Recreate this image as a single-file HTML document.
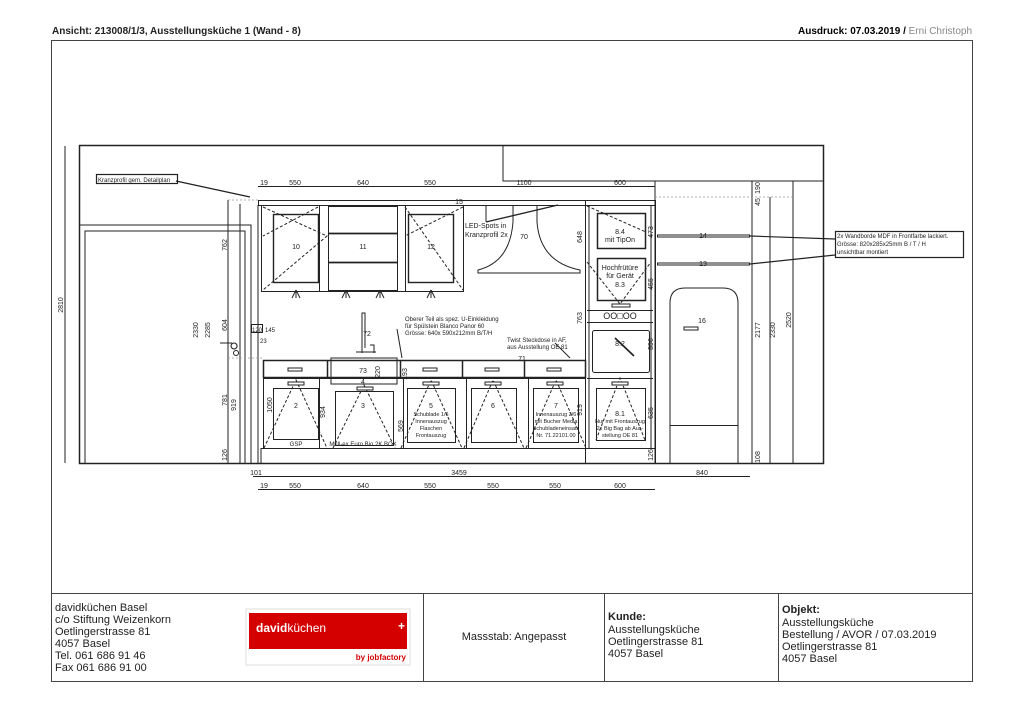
<!DOCTYPE html>
<html><head><meta charset="utf-8"><style>
body{margin:0;background:#fff;font-family:"Liberation Sans",sans-serif;}
svg{display:block}
text{font-family:"Liberation Sans",sans-serif;fill:#222}
</style></head><body>
<svg width="1024" height="724" viewBox="0 0 1024 724" xmlns="http://www.w3.org/2000/svg">
<text x="52" y="34" font-size="10" font-weight="bold" fill="#000">Ansicht: 213008/1/3, Ausstellungsküche 1 (Wand - 8)</text>
<text x="972" y="34" font-size="10" text-anchor="end"><tspan font-weight="bold" fill="#000">Ausdruck: 07.03.2019 / </tspan><tspan fill="#888">Erni Christoph</tspan></text>
<g fill="none" stroke="#444" stroke-width="1">
<rect x="51.5" y="40.5" width="921" height="641"/>
<line x1="51" y1="593.5" x2="972" y2="593.5"/>
<line x1="423.5" y1="593" x2="423.5" y2="682"/>
<line x1="604.5" y1="593" x2="604.5" y2="682"/>
<line x1="778.5" y1="593" x2="778.5" y2="682"/>
</g>
<g fill="none" stroke="#222" stroke-width="1">
<rect x="79.5" y="145.5" width="744" height="318" stroke-width="1.5"/>
<path d="M503 145V181H823"/>
<path d="M80 225H251V463M85 463V231H245V463"/>
<line x1="65" y1="146" x2="65" y2="463"/>
<rect x="258.5" y="200.5" width="397" height="5"/>
<rect x="261.5" y="205.5" width="202" height="86"/>
<line x1="319.5" y1="205" x2="319.5" y2="291"/><line x1="405.5" y1="205" x2="405.5" y2="291"/>
<rect x="273.5" y="214.5" width="45" height="68" stroke-width="1.4"/>
<rect x="408.5" y="214.5" width="45" height="68" stroke-width="1.4"/>
<rect x="328.5" y="206.5" width="69" height="84"/>
<line x1="328" y1="233.5" x2="398" y2="233.5" stroke-width="1.7"/>
<line x1="328" y1="262.5" x2="398" y2="262.5" stroke-width="1.7"/>
<g stroke-dasharray="3,2"><path d="M263 207L327 236L263 290M318 207L263 236M405 207L463 290M463 207L405 236"/></g>
<path d="M296 290l-4 8M296 290l4 8M296 290v8M346 290l-4 8M346 290l4 8M346 290v8M380 290l-4 8M380 290l4 8M380 290v8M431 290l-4 8M431 290l4 8M431 290v8"/>
<path d="M513 205V222Q510 262 478 270V273H580V270Q540 262 537 222V205"/>
<line x1="486" y1="222" x2="558" y2="205" stroke-width="1.3"/>
<line x1="486" y1="222" x2="486" y2="206"/>
<rect x="585.5" y="200.5" width="70" height="263"/>
<line x1="589" y1="205" x2="589" y2="448"/><line x1="651" y1="205" x2="651" y2="448"/>
<rect x="597.5" y="213.5" width="48" height="35" stroke-width="1.5"/>
<rect x="597.5" y="258.5" width="48" height="42" stroke-width="1.5"/>
<line x1="587" y1="310.5" x2="653" y2="310.5"/><line x1="587" y1="322.5" x2="653" y2="322.5"/>
<rect x="592.5" y="330.5" width="57" height="42" rx="2"/>
<line x1="587" y1="378.5" x2="653" y2="378.5"/>
<line x1="615" y1="338" x2="634" y2="356" stroke-width="1.7"/>
<rect x="612" y="304" width="18" height="3"/>
<g stroke-dasharray="3,2"><path d="M587 206L646 232M587 262L620 304L651 262M596 440L620 378L645 440"/></g>
<rect x="263.5" y="360.5" width="322" height="17" stroke-width="1.5"/>
<line x1="327.5" y1="360" x2="327.5" y2="378" stroke-width="1.5"/>
<line x1="400.5" y1="360" x2="400.5" y2="378" stroke-width="1.5"/>
<line x1="462.5" y1="360" x2="462.5" y2="378" stroke-width="1.5"/>
<line x1="524.5" y1="360" x2="524.5" y2="378" stroke-width="1.5"/>
<rect x="331" y="358" width="66" height="26"/>
<rect x="263.5" y="378.5" width="322" height="70"/>
<line x1="261" y1="448.5" x2="655" y2="448.5"/>
<line x1="261" y1="463" x2="261" y2="448"/>
<rect x="273.5" y="388.5" width="45" height="51"/>
<rect x="335.5" y="391.5" width="58" height="54"/>
<rect x="407.5" y="388.5" width="48" height="54"/>
<rect x="471.5" y="388.5" width="45" height="54"/>
<rect x="533.5" y="388.5" width="45" height="54"/>
<rect x="596.5" y="388.5" width="49" height="52"/>
<line x1="319.5" y1="378" x2="319.5" y2="448"/><line x1="403.5" y1="378" x2="403.5" y2="448"/>
<line x1="466.5" y1="378" x2="466.5" y2="448"/><line x1="528.5" y1="378" x2="528.5" y2="448"/>
<g stroke-dasharray="3,2"><path d="M264 448L296 380L327 448M333 448L364 385L395 448M401 448L431 380L462 448M464 448L493 380L524 448M526 448L556 380L586 448"/></g>
<g fill="#fff"><rect x="288" y="368" width="14" height="3"/><rect x="423" y="368" width="14" height="3"/><rect x="485" y="368" width="14" height="3"/><rect x="547" y="368" width="14" height="3"/>
<rect x="288" y="382" width="16" height="3"/><rect x="357" y="387" width="16" height="3"/><rect x="423" y="382" width="16" height="3"/><rect x="485" y="382" width="16" height="3"/><rect x="547" y="382" width="16" height="3"/><rect x="612" y="382" width="16" height="3"/></g>
<path d="M362 353V313h3v35M356 352h20M370 345h4v8"/>
<rect x="251.5" y="324.5" width="11" height="8"/>
<circle cx="236" cy="353" r="2.5"/><path d="M220 343h12M234 343a3 3 0 1 0 0.1 0"/>
<path d="M670 463V303Q670 288 685 288H723Q738 288 738 303V463M670 425.5H738"/>
<rect x="684" y="327" width="14" height="3"/>
<rect x="657.5" y="235" width="92" height="2"/><rect x="657.5" y="263" width="92" height="2"/>
<line x1="750" y1="236" x2="835" y2="239" stroke-width="1.2"/><line x1="750" y1="264" x2="835" y2="255" stroke-width="1.2"/>
<rect x="835.5" y="231.5" width="128" height="26" stroke-width="1.2"/>
<line x1="655" y1="181" x2="655" y2="463"/><line x1="752" y1="181" x2="752" y2="463"/>
<line x1="770" y1="197" x2="770" y2="463"/><line x1="793" y1="181" x2="793" y2="463"/>
<line x1="228" y1="200" x2="228" y2="463"/><line x1="240" y1="204" x2="240" y2="463"/>
<line x1="258" y1="205" x2="258" y2="463"/>
<line x1="258" y1="186.5" x2="655" y2="186.5"/>
<line x1="253" y1="476.5" x2="750" y2="476.5"/>
<line x1="258" y1="489.5" x2="655" y2="489.5"/>
<line x1="176" y1="181" x2="250" y2="197" stroke-width="1.3"/>
<rect x="96.5" y="174.5" width="81" height="9" stroke-width="1.2"/>
<line x1="397" y1="329" x2="402" y2="358"/><line x1="555" y1="343" x2="570" y2="358"/>
</g>
<g stroke="#999" stroke-dasharray="2,2" fill="none" stroke-width="0.7"><line x1="228" y1="200" x2="258" y2="200"/><line x1="228" y1="358" x2="263" y2="358"/><line x1="655" y1="197" x2="793" y2="197"/></g>
<g font-size="7" text-anchor="middle">
<text x="264" y="185">19</text><text x="295" y="185">550</text><text x="363" y="185">640</text><text x="430" y="185">550</text><text x="524" y="185">1100</text><text x="620" y="185">600</text>
<text x="264" y="488">19</text><text x="295" y="488">550</text><text x="363" y="488">640</text><text x="430" y="488">550</text><text x="493" y="488">550</text><text x="555" y="488">550</text><text x="620" y="488">600</text>
<text x="256" y="475">101</text><text x="459" y="475">3459</text><text x="702" y="475">840</text>
<text x="296" y="249">10</text><text x="363" y="249">11</text><text x="431" y="249">12</text><text x="524" y="239">70</text>
<text x="620" y="234">8.4</text><text x="620" y="242">mit TipOn</text><text x="620" y="270">Hochfrütüre</text><text x="620" y="278">für Gerät</text><text x="620" y="287">8.3</text>
<text x="620" y="319" font-size="9">OO□OO</text><text x="620" y="346">8.2</text><text x="620" y="416">8.1</text>
<text x="702" y="323">16</text><text x="703" y="238">14</text><text x="703" y="266">13</text>
<text x="296" y="408">2</text><text x="363" y="408">3</text><text x="431" y="408">5</text><text x="493" y="408">6</text><text x="556" y="408">7</text>
<text x="363" y="373">73</text><text x="363" y="384">4</text><text x="367" y="336">72</text><text x="522" y="361">71</text><text x="459" y="204">15</text>
<text x="296" y="446" font-size="6">GSP</text><text x="363" y="446" font-size="6">Müll-ex Euro Bio 2K BOX</text>
<g font-size="5.5"><text x="431" y="416">Schublade 1/6</text><text x="431" y="423">Innenauszug</text><text x="431" y="430">Flaschen</text><text x="431" y="437">Frontauszug</text>
<text x="556" y="416">Innenauszug 2/6</text><text x="556" y="423">mit Bucher Media</text><text x="556" y="430">Schubladeneinsatz</text><text x="556" y="437">Nr. 71.22101.00</text>
<text x="620" y="423">Nur mit Frontauszug</text><text x="620" y="430">2x Big Bag ab Aus-</text><text x="620" y="437">stellung OE 81</text></g>
</g>
<g font-size="6" text-anchor="start">
<text x="405" y="321">Oberer Teil als spez. U-Einkleidung</text><text x="405" y="328">für Spülstein Blanco Panor 60</text><text x="405" y="335">Grösse: 640x 590x212mm B/T/H</text>
<text x="507" y="342">Twist Steckdose in AF,</text><text x="507" y="349">aus Ausstellung OE 81</text>
<text x="98" y="182">Kranzprofil gem. Detailplan</text>
<text x="837" y="238">2x Wandborde MDF in Frontfarbe lackiert.</text><text x="837" y="246">Grösse: 820x285x25mm B / T / H</text><text x="837" y="254">unsichtbar montiert</text>
<text x="465" y="228" font-size="7">LED-Spots in</text><text x="465" y="237" font-size="7">Kranzprofil 2x</text>
<text x="252" y="332">120</text><text x="265" y="332">145</text><text x="260" y="343">23</text>
</g>
<g font-size="7" text-anchor="middle">
<text transform="translate(63,305) rotate(-90)">2810</text><text transform="translate(198,330) rotate(-90)">2330</text><text transform="translate(210,330) rotate(-90)">2285</text>
<text transform="translate(227,245) rotate(-90)">762</text><text transform="translate(227,325) rotate(-90)">604</text><text transform="translate(227,400) rotate(-90)">781</text>
<text transform="translate(236,405) rotate(-90)">919</text><text transform="translate(227,455) rotate(-90)">126</text>
<text transform="translate(272,405) rotate(-90)">1050</text><text transform="translate(325,412) rotate(-90)">934</text>
<text transform="translate(582,237) rotate(-90)">648</text><text transform="translate(582,318) rotate(-90)">763</text><text transform="translate(582,410) rotate(-90)">919</text>
<text transform="translate(653,232) rotate(-90)">473</text><text transform="translate(653,284) rotate(-90)">455</text><text transform="translate(653,344) rotate(-90)">596</text><text transform="translate(653,413) rotate(-90)">635</text><text transform="translate(653,455) rotate(-90)">126</text>
<text transform="translate(760,188) rotate(-90)">190</text><text transform="translate(760,202) rotate(-90)">45</text>
<text transform="translate(760,330) rotate(-90)">2177</text><text transform="translate(775,330) rotate(-90)">2330</text><text transform="translate(791,320) rotate(-90)">2520</text><text transform="translate(760,457) rotate(-90)">108</text>
<text transform="translate(407,374) rotate(-90)">193</text><text transform="translate(380,372) rotate(-90)">220</text><text transform="translate(403,426) rotate(-90)">569</text>
</g>
<g font-size="11">
<text x="55" y="611">davidküchen Basel</text><text x="55" y="623">c/o Stiftung Weizenkorn</text><text x="55" y="635">Oetlingerstrasse 81</text><text x="55" y="647">4057 Basel</text><text x="55" y="659">Tel. 061 686 91 46</text><text x="55" y="671">Fax 061 686 91 00</text>
<text x="514" y="640" text-anchor="middle">Massstab: Angepasst</text>
<text x="608" y="620" font-weight="bold">Kunde:</text><text x="608" y="633">Ausstellungsküche</text><text x="608" y="645">Oetlingerstrasse 81</text><text x="608" y="657">4057 Basel</text>
<text x="782" y="613" font-weight="bold">Objekt:</text><text x="782" y="626">Ausstellungsküche</text><text x="782" y="638">Bestellung / AVOR / 07.03.2019</text><text x="782" y="650">Oetlingerstrasse 81</text><text x="782" y="662">4057 Basel</text>
</g>
<rect x="246" y="609" width="164" height="56" fill="#fff" stroke="#ddd"/>
<rect x="249" y="613" width="158" height="36" fill="#d40000"/>
<text x="256" y="632" font-size="12" style="fill:#fff"><tspan font-weight="bold">david</tspan>küchen</text>
<text x="398" y="630" font-size="12" style="fill:#fff" font-weight="bold">+</text>
<text x="406" y="660" font-size="8" text-anchor="end" font-weight="bold" style="fill:#d40000">by jobfactory</text>
</svg>
</body></html>
